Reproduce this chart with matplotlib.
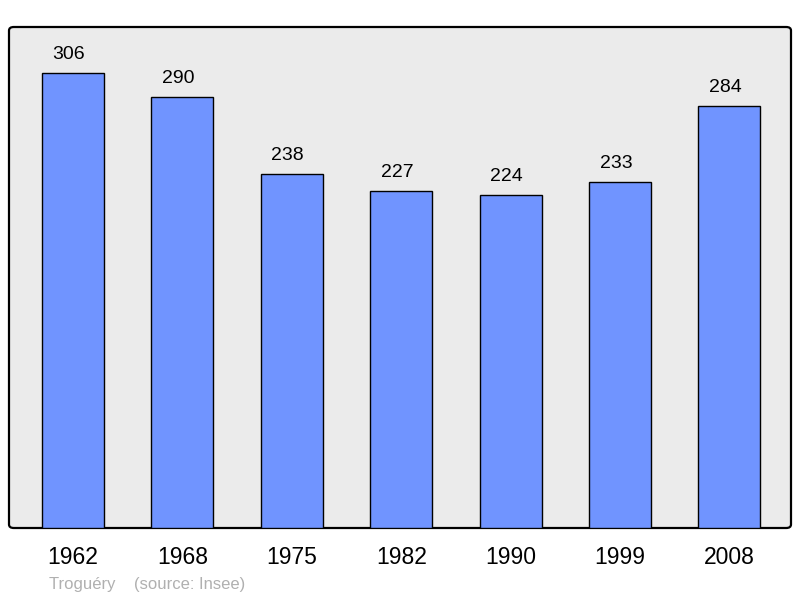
import matplotlib
matplotlib.use("Agg")
import matplotlib.pyplot as plt
from matplotlib.patches import FancyBboxPatch
from matplotlib.transforms import offset_copy

years = ["1962", "1968", "1975", "1982", "1990", "1999", "2008"]
population = [306, 290, 238, 227, 224, 233, 284]

plt.rcParams["font.family"] = ["Liberation Sans", "DejaVu Sans"]

W, H = 800, 598
fig = plt.figure(figsize=(W / 100, H / 100), dpi=100)
ax = fig.add_axes([9 / W, (H - 528) / H, 782 / W, 501 / H])
ax.set_facecolor("none")

# panel background with rounded corners, behind the axes
panel = FancyBboxPatch((9 / W, (H - 528) / H), 782 / W, 501 / H,
                       boxstyle="round,pad=0,rounding_size=0.006",
                       transform=fig.transFigure, facecolor="#ebebeb",
                       edgecolor="black", linewidth=1.6, zorder=-1)
fig.patches.append(panel)

x = list(range(len(years)))
ax.bar(x, population, width=0.567, color="#7094ff", edgecolor="black",
       linewidth=1.0, zorder=2)
# value labels sit a little left of the bar centre, as in the original
lbl_tr = offset_copy(ax.transData, fig=fig, x=-4, y=10, units="dots")
for xi, v in zip(x, population):
    ax.text(xi, v, str(v), ha="center", va="bottom", fontsize=14,
            transform=lbl_tr)

ax.set_xlim(-0.585, 6.563)
ax.set_ylim(0, 337)
for s in ax.spines.values():
    s.set_visible(False)
ax.set_yticks([])
ax.set_xticks(x)
ax.set_xticklabels(years, fontsize=16.5)
ax.tick_params(axis="x", length=0, pad=13)

fig.text(49 / W, 1 - 584 / H, "Troguéry    (source: Insee)", color="#b0b0b0",
         fontsize=12, va="center", ha="left")

fig.savefig("out.png", dpi=100)
